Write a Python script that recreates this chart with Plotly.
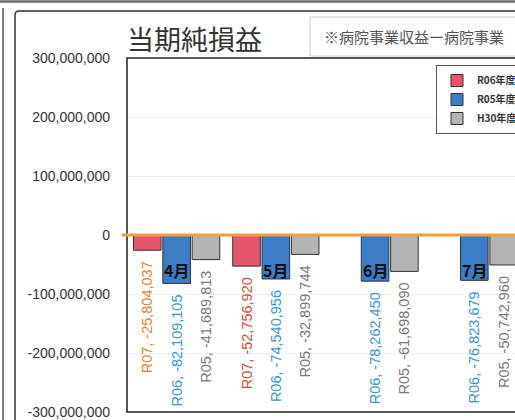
import plotly.graph_objects as go

# ---- data ----
months = ["4月", "5月", "6月", "7月"]
series_names = ["R06年度", "R05年度", "H30年度"]
label_prefixes = ["R07", "R06", "R05"]
r06_values = [-25804037, -52756920, None, None]
r05_values = [-82109105, -74540956, -78262450, -76823679]
h30_values = [-41689813, -32899744, -61698090, -50742960]
y_tickvals = [300000000, 200000000, 100000000, 0, -100000000, -200000000, -300000000]
y_ticktext = ["300,000,000", "200,000,000", "100,000,000", "0",
              "-100,000,000", "-200,000,000", "-300,000,000"]
title_text = "当期純損益"
note_text = "※病院事業収益ー病院事業"

# ---- layout geometry (pixels) ----
W, H = 515, 420
L, R, T, B = 127, 0, 58, 8
PW, PH = W - L - R, H - T - B


def px2x(px):
    return (px - L) / PW


def px2y(py):
    return (H - B - py) / PH


bar_colors = ["#E5566E", "#3C7DC8", "#B4B4B4"]
text_colors = [["#E8842E", "#E0483A", "#E0483A", "#E0483A"], "#3C96D2", "#7A7A7A"]
NB = "\u00a0\u00a0"


def labels(prefix, vals):
    return [None if v is None else f"{prefix}, {v:,}{NB}" for v in vals]


fig = go.Figure()
for name, prefix, vals, col, tcol in zip(series_names, label_prefixes,
                                         [r06_values, r05_values, h30_values],
                                         bar_colors, text_colors):
    fig.add_trace(go.Bar(
        x=months, y=vals, name=name,
        marker=dict(color=col, line=dict(color="#333333", width=1)),
        text=labels(prefix, vals), textposition="outside", textangle=-90,
        constraintext="none", cliponaxis=False,
        textfont=dict(family="Liberation Sans", size=14.5, color=tcol),
        hoverinfo="skip",
    ))

shapes = [
    # plot area border (right side is cut off)
    dict(type="rect", xref="paper", yref="paper", x0=0, x1=1.3, y0=0, y1=1,
         line=dict(color="#222222", width=1.5), fillcolor="rgba(0,0,0,0)"),
    # orange zero line
    dict(type="line", xref="paper", yref="y", x0=px2x(122), x1=1.0, y0=0, y1=0,
         line=dict(color="#F0A040", width=3), layer="above"),
    # scanned outer frames
    dict(type="line", xref="paper", yref="paper", x0=px2x(0), x1=px2x(W), y0=px2y(1.5), y1=px2y(1.5),
         line=dict(color="#6a6a6a", width=2.5)),
    dict(type="line", xref="paper", yref="paper", x0=px2x(3), x1=px2x(3), y0=px2y(8), y1=px2y(H + 2),
         line=dict(color="#555555", width=1.5)),
    dict(type="path", xref="paper", yref="paper",
         path=f"M {px2x(15)},{px2y(H + 2)} L {px2x(15)},{px2y(15)} Q {px2x(15)},{px2y(11)} {px2x(19)},{px2y(11)} L {px2x(W + 2)},{px2y(11)}",
         line=dict(color="#333333", width=1.5)),
    # note box
    dict(type="rect", xref="paper", yref="paper", x0=px2x(310), x1=px2x(W + 20), y0=px2y(56), y1=px2y(17),
         line=dict(color="#cccccc", width=1), fillcolor="white"),
]

annotations = [
    dict(text=title_text, xref="paper", yref="paper", x=px2x(125), y=px2y(38.5),
         xanchor="left", yanchor="middle", showarrow=False,
         font=dict(family="Noto Sans CJK JP", size=27, color="#333333")),
    dict(text=note_text, xref="paper", yref="paper", x=px2x(322), y=px2y(37),
         xanchor="left", yanchor="middle", showarrow=False,
         font=dict(family="Noto Sans CJK JP", size=15, color="#555555")),
]
for m in months:
    annotations.append(dict(text=m, x=m, y=0, xref="x", yref="y", yshift=-35,
                            showarrow=False, xanchor="center", yanchor="middle",
                            font=dict(family="Noto Sans CJK JP", size=16, color="#111111", weight="bold")))

fig.update_layout(
    width=W, height=H,
    margin=dict(l=L, r=R, t=T, b=B, autoexpand=False),
    paper_bgcolor="white", plot_bgcolor="white",
    barmode="group", bargap=0.113, bargroupgap=0.06,
    showlegend=True,
    legend=dict(x=px2x(436), y=px2y(65), xanchor="left", yanchor="top",
                bgcolor="white", bordercolor="#555555", borderwidth=1,
                font=dict(family="Noto Sans CJK JP", size=10, color="#333333", weight="bold"),
                tracegroupgap=0, itemwidth=30),
    xaxis=dict(range=[-0.5, 3.41], showticklabels=False, showgrid=False,
               zeroline=False, showline=False, ticks=""),
    yaxis=dict(range=[-300000000, 300000000], tickvals=y_tickvals, ticktext=y_ticktext,
               showgrid=True, gridcolor="#efefef", gridwidth=1, zeroline=False,
               showline=False, ticks="", ticklabelstandoff=16,
               tickfont=dict(family="Liberation Sans", size=14, color="#333333")),
    shapes=shapes, annotations=annotations,
)

fig.write_html("out.html", config={"displayModeBar": False, "staticPlot": True},
               post_script="document.body.style.margin='0';document.body.style.padding='0';"
                           "document.documentElement.style.overflow='hidden';")
